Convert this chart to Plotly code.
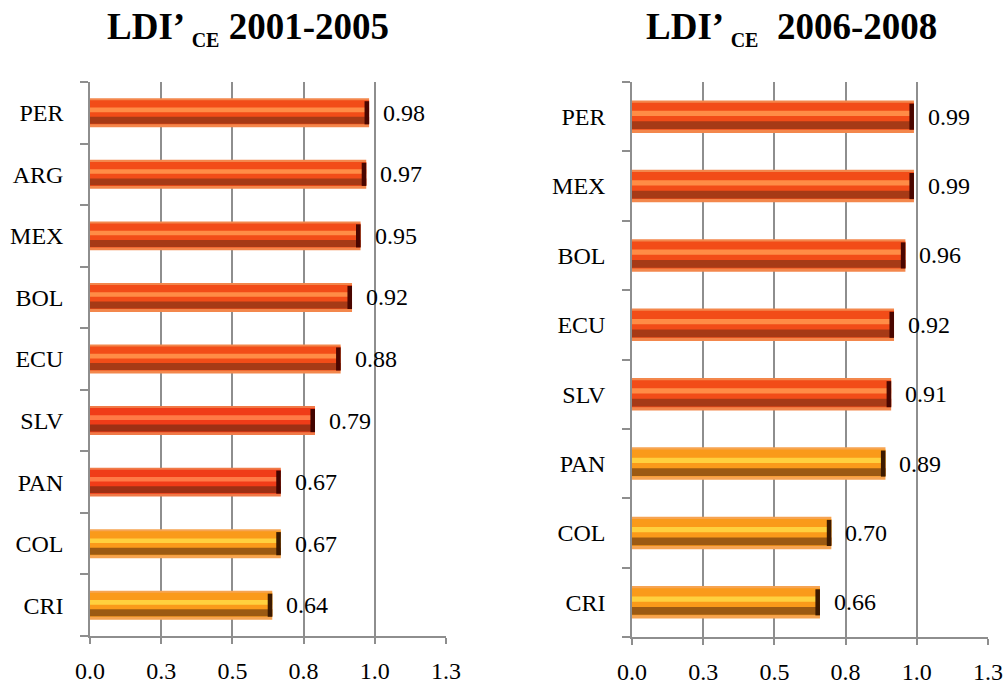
import plotly.graph_objects as go
from plotly.subplots import make_subplots

# ---------------- data ----------------
left_countries = ["PER", "ARG", "MEX", "BOL", "ECU", "SLV", "PAN", "COL", "CRI"]
left_values = [0.98, 0.97, 0.95, 0.92, 0.88, 0.79, 0.67, 0.67, 0.64]
left_groups = ["A", "A", "A", "A", "A", "B", "B", "C", "C"]

right_countries = ["PER", "MEX", "BOL", "ECU", "SLV", "PAN", "COL", "CRI"]
right_values = [0.99, 0.99, 0.96, 0.92, 0.91, 0.89, 0.70, 0.66]
right_groups = ["A", "A", "A", "A", "A", "C", "C", "C"]

tick_vals = [0.0, 0.25, 0.5, 0.75, 1.0, 1.25]
tick_text = ["0.0", "0.3", "0.5", "0.8", "1.0", "1.3"]

title_left = "LDI’ <sub><span style='font-size:20px'>CE</span></sub> 2001-2005"
title_right = "LDI’ <sub><span style='font-size:20px'>CE</span></sub>  2006-2008"

# ---------------- styles ----------------
PALETTE = {
    "A": dict(edge="#F3874C", main="#F24C18", light="#FF8C46", dark="#A63A16", cap="#4A0600"),
    "B": dict(edge="#F07A48", main="#F03C18", light="#FF7A46", dark="#9E3014", cap="#420400"),
    "C": dict(edge="#F6A452", main="#FA9A1A", light="#FFD03E", dark="#9C5A12", cap="#3C1A00"),
}
FONT = "Liberation Serif, Times New Roman, serif"
GRID = "#8E8E8E"
W = 0.47  # total bar thickness (category units)
CAP = 0.016

# bands as (from, to) fractions of the bar thickness, from bottom
BANDS = [("edge", 0.0, 1.0), ("main", 0.10, 0.93), ("dark", 0.12, 0.36), ("light", 0.52, 0.68)]

fig = make_subplots(rows=1, cols=2)


def add_panel(cats, vals, groups, col):
    for band, f0, f1 in BANDS:
        fig.add_trace(go.Bar(
            x=vals, y=cats, orientation="h",
            width=(f1 - f0) * W, offset=-W / 2 + f0 * W,
            marker=dict(color=[PALETTE[g][band] for g in groups], line_width=0),
            hoverinfo="skip", showlegend=False,
        ), row=1, col=col)
    # dark end cap of each bar
    fig.add_trace(go.Bar(
        x=[CAP] * len(vals), base=[v - CAP for v in vals], y=cats, orientation="h",
        width=0.80 * W, offset=-W / 2 + 0.10 * W,
        marker=dict(color=[PALETTE[g]["cap"] for g in groups], line_width=0),
        hoverinfo="skip", showlegend=False,
    ), row=1, col=col)
    xref = "x" if col == 1 else "x2"
    yref = "y" if col == 1 else "y2"
    for c, v in zip(cats, vals):
        fig.add_annotation(x=v, y=c, xref=xref, yref=yref, text=f"{v:.2f}",
                           showarrow=False, xanchor="left", xshift=12,
                           font=dict(family=FONT, size=24, color="black"))


add_panel(left_countries, left_values, left_groups, 1)
add_panel(right_countries, right_values, right_groups, 2)

common_x = dict(range=[0, 1.25], tickvals=tick_vals, ticktext=tick_text,
                showgrid=True, gridcolor=GRID, gridwidth=1.5, zeroline=False,
                showline=True, linecolor=GRID, linewidth=1.5,
                ticks="outside", ticklen=6, tickcolor=GRID, tickwidth=1.5,
                ticklabelstandoff=6, automargin=False,
                tickfont=dict(family=FONT, size=24, color="black"), fixedrange=True)
common_y = dict(type="category", showgrid=False, zeroline=False,
                showline=True, linecolor=GRID, linewidth=1.5,
                ticks="outside", ticklen=8, tickcolor=GRID, tickwidth=1.5,
                tickson="boundaries", ticklabelstandoff=20, automargin=False,
                tickfont=dict(family=FONT, size=24, color="black"), fixedrange=True)

fig.update_layout(
    xaxis=dict(domain=[90 / 1006, 446 / 1006], **common_x),
    xaxis2=dict(domain=[632 / 1006, 988 / 1006], **common_x),
    yaxis=dict(domain=[(687 - 636) / 687, (687 - 82) / 687],
               categoryorder="array", categoryarray=left_countries[::-1], **common_y),
    yaxis2=dict(domain=[(687 - 637) / 687, (687 - 82) / 687],
                categoryorder="array", categoryarray=right_countries[::-1], **common_y),
    barmode="overlay",
    width=1006, height=687,
    margin=dict(l=0, r=0, t=0, b=0, autoexpand=False),
    paper_bgcolor="white", plot_bgcolor="white",
    font=dict(family=FONT, color="black"),
)

fig.add_annotation(x=247.5 / 1006, y=1, xref="paper", yref="paper",
                   xanchor="center", yanchor="top",
                   yshift=-4, text=f"<b>{title_left}</b>", showarrow=False,
                   font=dict(family=FONT, size=37, color="black"))
fig.add_annotation(x=791 / 1006, y=1, xref="paper", yref="paper",
                   xanchor="center", yanchor="top",
                   yshift=-4, text=f"<b>{title_right}</b>", showarrow=False,
                   font=dict(family=FONT, size=37, color="black"))

fig.write_html("out.html", config={"displayModeBar": False},
               post_script="document.body.style.margin='0';")
